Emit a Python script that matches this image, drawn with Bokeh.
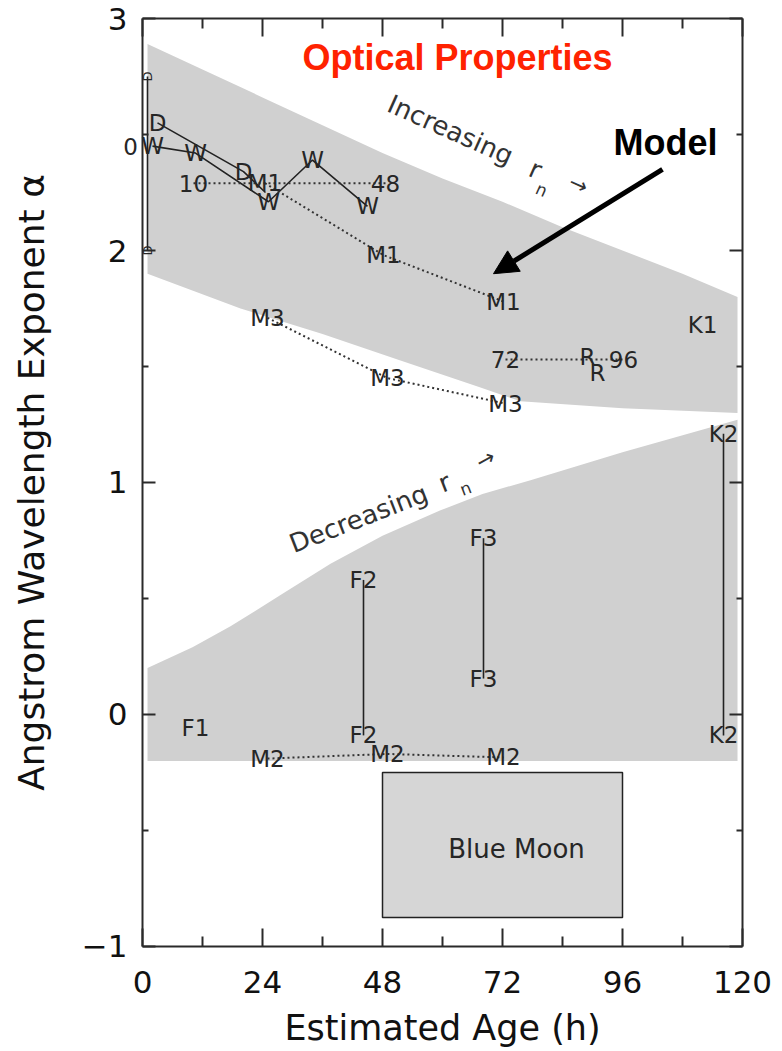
import math
from bokeh.plotting import figure
from bokeh.models import (Range1d, LinearAxis, FixedTicker, Arrow, NormalHead,
                          ColumnDataSource)
from bokeh.core.properties import value
from bokeh.embed import file_html
from bokeh.resources import INLINE

# ---------------- data ----------------
# shaded envelopes (model ranges)
upper_top_x = [1, 12, 24, 36, 48, 60, 72, 84, 96, 108, 119]
upper_top_y = [2.89, 2.78, 2.66, 2.54, 2.42, 2.31, 2.21, 2.10, 2.00, 1.90, 1.80]
upper_bot_x = [1, 19.6, 36, 51, 67.6, 75.6, 96, 119]
upper_bot_y = [1.90, 1.75, 1.64, 1.53, 1.41, 1.35, 1.32, 1.30]
lower_top_x = [1, 10, 17.6, 28, 37.6, 48, 59.6, 68, 77.6, 96, 119]
lower_top_y = [0.20, 0.29, 0.38, 0.52, 0.65, 0.77, 0.88, 0.95, 1.01, 1.13, 1.27]
lower_floor = -0.20

# Blue Moon box
bm_left, bm_right, bm_bottom, bm_top = 48, 96, -0.875, -0.25
bm_text = ("Blue Moon", 74.8, -0.58)

# observation series
w_x = [2, 10.6, 25.2, 34, 45]
w_y = [2.45, 2.42, 2.21, 2.39, 2.19]
d_x = [3, 20.2, 24.6]
d_y = [2.55, 2.34, 2.25]
d_lab_n = 2
m1_x = [24.5, 48.2, 72.2]
m1_y = [2.29, 1.98, 1.78]
m3_x = [25, 49, 72.6]
m3_y = [1.71, 1.45, 1.34]
m2_x = [25, 49, 72.2]
m2_y = [-0.19, -0.17, -0.185]
f2_x = [44.2, 44.2]
f2_y = [0.58, -0.09]
f3_x = [68.2, 68.2]
f3_y = [0.76, 0.155]
k2_x = [116.2, 116.2]
k2_y = [1.21, -0.09]
k1 = (112, 1.68)
f1 = (10.6, -0.06)
r_x = [89, 91]
r_y = [1.54, 1.47]
bar_x = [1, 1]
bar_y = [2.0, 2.75]
# elapsed-hour markers
hr_a_x = [10.2, 48.6]
hr_a_y = [2.29, 2.29]
hr_a_lab = ["10", "48"]
hr_b_x = [72.6, 96.2]
hr_b_y = [1.53, 1.53]
hr_b_lab = ["72", "96"]
hr0 = ("0", -2.4, 2.45)

x_ticks = [0, 24, 48, 72, 96, 120]
x_minor = [12, 36, 60, 84, 108]
y_ticks = [-1, 0, 1, 2, 3]
y_minor = [-0.5, 0.5, 1.5, 2.5]
x_lim = (0, 120)
y_lim = (-1, 3)

# ---------------- figure ----------------
# the frame covers the whole canvas; the axes are pinned at the data limits so that
# texts lying just outside the box (like the hour "0") are still drawn.
p = figure(frame_width=774, frame_height=1050,
           x_range=Range1d(-28.4, 126.4), y_range=Range1d(-1.4483, 3.0776),
           output_backend="svg", toolbar_location=None,
           x_axis_location=None, y_axis_location=None, min_border=0)
p.title.visible = False
p.xgrid.visible = False
p.ygrid.visible = False
p.outline_line_color = None
p.background_fill_color = "white"
p.border_fill_color = "white"

AX = "#2a2a2a"
FONT = "DejaVu Sans"

def make_axis(ticks, minor, loc, bounds, major_in, minor_in, blank=False):
    ax = LinearAxis(ticker=FixedTicker(ticks=ticks, minor_ticks=minor),
                    fixed_location=loc, bounds=bounds)
    ax.axis_line_color = AX
    ax.axis_line_width = 2
    ax.major_tick_line_color = AX
    ax.minor_tick_line_color = AX
    ax.major_tick_line_width = 2
    ax.minor_tick_line_width = 2
    ax.major_tick_in = major_in
    ax.major_tick_out = 0
    ax.minor_tick_in = minor_in
    ax.minor_tick_out = 0
    ax.major_label_text_font = FONT
    ax.major_label_text_font_size = "31px"
    ax.major_label_text_color = "#111111"
    ax.axis_label_text_font = FONT
    ax.axis_label_text_font_style = "normal"
    ax.axis_label_text_color = "#111111"
    if blank:
        ax.major_label_overrides = {t: "" for t in ticks}
        ax.major_label_standoff = 0
    return ax

xa = make_axis(x_ticks, x_minor, y_lim[0], x_lim, 18, 10)
xa.axis_label = "Estimated Age (h)"
xa.major_label_standoff = 25
xa.axis_label_standoff = 11
xa.axis_label_text_font_size = "35px"
p.add_layout(xa, "below")

ya = make_axis(y_ticks, y_minor, x_lim[0], y_lim, 13, 6)
ya.axis_label = "Angstrom Wavelength Exponent \u03b1"
ya.major_label_standoff = 15
ya.axis_label_standoff = 27
ya.axis_label_text_font_size = "36px"
ya.major_label_overrides = {-1: "\u22121"}
p.add_layout(ya, "left")

p.add_layout(make_axis(x_ticks, x_minor, y_lim[1], x_lim, 18, 10, blank=True), "above")
p.add_layout(make_axis(y_ticks, y_minor, x_lim[1], y_lim, 13, 6, blank=True), "right")

# ---------------- shaded regions ----------------
BAND = "#d0d0d0"
p.patch(upper_top_x + upper_bot_x[::-1], upper_top_y + upper_bot_y[::-1],
        fill_color=BAND, line_color=None)
p.patch(lower_top_x + [lower_top_x[-1], lower_top_x[0]],
        lower_top_y + [lower_floor, lower_floor],
        fill_color=BAND, line_color=None)
p.quad(left=[bm_left], right=[bm_right], bottom=[bm_bottom], top=[bm_top],
       fill_color="#d6d6d6", line_color="#222222", line_width=1.5)

# ---------------- lines ----------------
LC = "#222222"
p.line(w_x, w_y, line_color=LC, line_width=1.6)
p.line(d_x, d_y, line_color=LC, line_width=1.6)
p.line(bar_x, bar_y, line_color=LC, line_width=1.6)
for xs, ys in [(f2_x, f2_y), (f3_x, f3_y), (k2_x, k2_y)]:
    p.line(xs, ys, line_color=LC, line_width=1.6)
for xs, ys in [(m1_x, m1_y), (m3_x, m3_y), (m2_x, m2_y), (hr_a_x, hr_a_y), (hr_b_x, hr_b_y)]:
    p.line(xs, ys, line_color="#333333", line_width=2, line_dash="2 3")

# ---------------- point labels ----------------
lab_t, lab_x, lab_y = [], [], []
def add(labels, xs, ys):
    lab_t.extend(labels); lab_x.extend(xs); lab_y.extend(ys)

add(["W"] * len(w_x), w_x, w_y)
add(["D"] * d_lab_n, d_x[:d_lab_n], d_y[:d_lab_n])
add(["M1"] * 3, m1_x, m1_y)
add(["M3"] * 3, m3_x, m3_y)
add(["M2"] * 3, m2_x, m2_y)
add(["F2"] * 2, f2_x, f2_y)
add(["F3"] * 2, f3_x, f3_y)
add(["K2"] * 2, k2_x, k2_y)
add(["K1"], [k1[0]], [k1[1]])
add(["F1"], [f1[0]], [f1[1]])
add(["R"] * 2, r_x, r_y)
add(hr_a_lab, hr_a_x, hr_a_y)
add(hr_b_lab, hr_b_x, hr_b_y)
add([hr0[0]], [hr0[1]], [hr0[2]])

src = ColumnDataSource(dict(x=lab_x, y=lab_y, t=lab_t))
p.text(x="x", y="y", text="t", source=src, text_font=value(FONT),
       text_font_size=value("23px"), text_align="center", text_baseline="middle",
       text_color="#262626")
p.text(x=[bm_text[1]], y=[bm_text[2]], text=[bm_text[0]], text_font=value(FONT),
       text_font_size=value("26px"), text_align="center", text_baseline="middle",
       text_color="#262626")

# small caps on the vertical bar at x~1
p.text(x=bar_x, y=bar_y, text=["D", "D"], angle=math.pi / 2, angle_units="rad",
       text_font=value(FONT), text_font_size=value("13px"), text_align="center",
       text_baseline="middle", text_color="#262626")

# ---------------- annotations ----------------
ann_inc = [("Increasing", 61.6, 2.52, -0.42, "26px"), ("r", 78.6, 2.35, -0.42, "26px"),
           ("n", 79.8, 2.262, -0.42, "17px"), ("\u2192", 87.2, 2.285, -0.42, "22px")]
ann_dec = [("Decreasing", 43.2, 0.845, 0.37, "26px"), ("r", 60.4, 1.0, 0.37, "26px"),
           ("n", 64.6, 0.974, 0.37, "17px"), ("\u2192", 68.6, 1.10, 0.50, "22px")]
for t, x, y, a, fs in ann_inc + ann_dec:
    p.text(x=[x], y=[y], text=[t], angle=a, text_font=value(FONT),
           text_font_size=value(fs), text_align="center", text_baseline="middle",
           text_color="#333333")

title = ("Optical Properties", 63, 2.834)
model = ("Model", 104.6, 2.466)
p.text(x=[title[1]], y=[title[2]], text=[title[0]], text_font=value("Liberation Sans"),
       text_font_style="bold", text_font_size=value("36px"), text_align="center",
       text_baseline="middle", text_color="#ff2200")
p.text(x=[model[1]], y=[model[2]], text=[model[0]], text_font=value("Liberation Sans"),
       text_font_style="bold", text_font_size=value("36px"), text_align="center",
       text_baseline="middle", text_color="black")

arrow_from = (104, 2.35)
arrow_to = (70.2, 1.90)
p.add_layout(Arrow(end=NormalHead(size=24, fill_color="black", line_color="black"),
                   x_start=arrow_from[0], y_start=arrow_from[1],
                   x_end=arrow_to[0], y_end=arrow_to[1],
                   line_color="black", line_width=5))

open("out.html", "w").write(file_html(p, INLINE))
